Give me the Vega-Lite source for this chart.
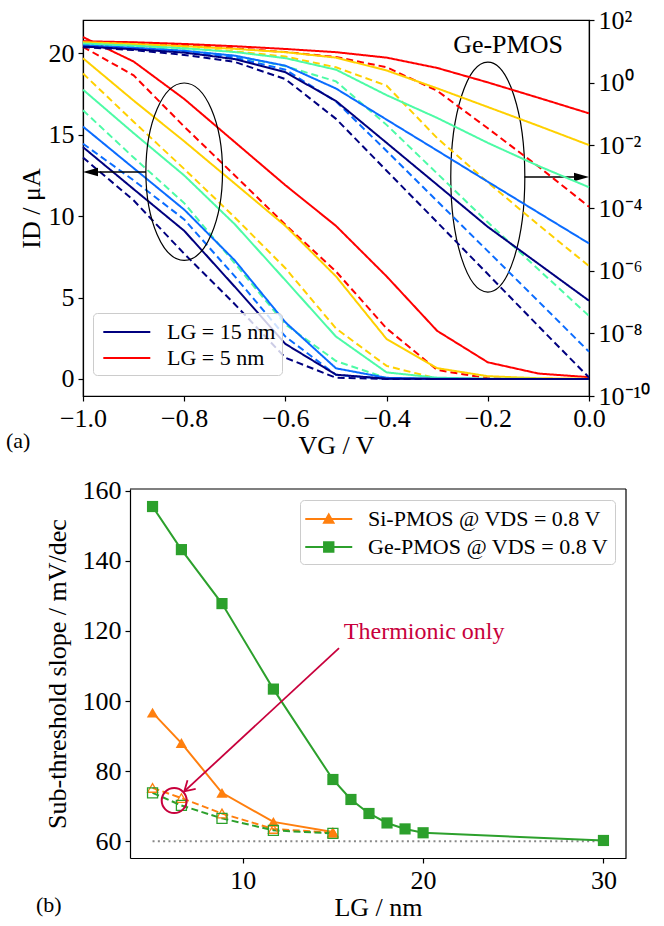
{
  "$schema": "https://vega.github.io/schema/vega-lite/v6.json",
  "padding": {"left": 5, "top": 6, "right": 5, "bottom": 0},
  "background": "white",
  "spacing": 18,
  "resolve": {"scale": {"color": "independent", "shape": "independent", "strokeDash": "independent"}, "legend": {"color": "independent", "shape": "independent"}},
  "config": {
    "font": "Liberation Serif",
    "view": {"stroke": null},
    "axis": {"labelFont": "Liberation Serif", "labelFontSize": 26, "titleFont": "Liberation Serif", "titleFontSize": 26, "titleFontWeight": "normal", "labelColor": "black", "titleColor": "black", "tickColor": "black", "domainColor": "black", "tickSize": 5, "grid": false, "labelPadding": 4, "labelFlush": false, "labelOverlap": false, "domainWidth": 1.2, "tickWidth": 1.2},
    "legend": {"labelFont": "Liberation Serif", "labelFontSize": 22, "labelColor": "black", "fillColor": "rgba(255,255,255,0.8)", "strokeColor": "#cccccc", "cornerRadius": 4, "labelLimit": 400},
    "title": {"font": "Liberation Serif", "fontSize": 22, "fontWeight": "normal", "color": "black"}
  },
  "datasets": {
    "iv": [
      {"VG": -1, "I": 21.0, "LG": "5", "kind": "full"}, {"VG": -0.9, "I": 19.5, "LG": "5", "kind": "full"}, {"VG": -0.8, "I": 17.2, "LG": "5", "kind": "full"}, {"VG": -0.7, "I": 14.55, "LG": "5", "kind": "full"}, {"VG": -0.6, "I": 11.9, "LG": "5", "kind": "full"}, {"VG": -0.5, "I": 9.4, "LG": "5", "kind": "full"}, {"VG": -0.4, "I": 6.3, "LG": "5", "kind": "full"}, {"VG": -0.3, "I": 2.95, "LG": "5", "kind": "full"}, {"VG": -0.2, "I": 1.02, "LG": "5", "kind": "full"}, {"VG": -0.1, "I": 0.33, "LG": "5", "kind": "full"}, {"VG": 0, "I": 0.105, "LG": "5", "kind": "full"},
      {"VG": -1, "I": 20.4, "LG": "5", "kind": "thermionic"}, {"VG": -0.9, "I": 18.65, "LG": "5", "kind": "thermionic"}, {"VG": -0.8, "I": 15.5, "LG": "5", "kind": "thermionic"}, {"VG": -0.7, "I": 12.5, "LG": "5", "kind": "thermionic"}, {"VG": -0.6, "I": 9.47, "LG": "5", "kind": "thermionic"}, {"VG": -0.5, "I": 6.6, "LG": "5", "kind": "thermionic"}, {"VG": -0.4, "I": 3.1, "LG": "5", "kind": "thermionic"}, {"VG": -0.3, "I": 0.55, "LG": "5", "kind": "thermionic"}, {"VG": -0.2, "I": 0.035, "LG": "5", "kind": "thermionic"}, {"VG": -0.1, "I": 0.0021, "LG": "5", "kind": "thermionic"}, {"VG": 0, "I": 0.00011, "LG": "5", "kind": "thermionic"},
      {"VG": -1, "I": 19.7, "LG": "6.6", "kind": "full"}, {"VG": -0.9, "I": 17.1, "LG": "6.6", "kind": "full"}, {"VG": -0.8, "I": 14.6, "LG": "6.6", "kind": "full"}, {"VG": -0.7, "I": 12.0, "LG": "6.6", "kind": "full"}, {"VG": -0.6, "I": 9.4, "LG": "6.6", "kind": "full"}, {"VG": -0.5, "I": 6.3, "LG": "6.6", "kind": "full"}, {"VG": -0.4, "I": 2.45, "LG": "6.6", "kind": "full"}, {"VG": -0.3, "I": 0.66, "LG": "6.6", "kind": "full"}, {"VG": -0.2, "I": 0.167, "LG": "6.6", "kind": "full"}, {"VG": -0.1, "I": 0.042, "LG": "6.6", "kind": "full"}, {"VG": 0, "I": 0.0102, "LG": "6.6", "kind": "full"},
      {"VG": -1, "I": 18.76, "LG": "6.6", "kind": "thermionic"}, {"VG": -0.9, "I": 15.8, "LG": "6.6", "kind": "thermionic"}, {"VG": -0.8, "I": 12.9, "LG": "6.6", "kind": "thermionic"}, {"VG": -0.7, "I": 9.92, "LG": "6.6", "kind": "thermionic"}, {"VG": -0.6, "I": 6.8, "LG": "6.6", "kind": "thermionic"}, {"VG": -0.5, "I": 3.1, "LG": "6.6", "kind": "thermionic"}, {"VG": -0.4, "I": 0.8, "LG": "6.6", "kind": "thermionic"}, {"VG": -0.3, "I": 0.017, "LG": "6.6", "kind": "thermionic"}, {"VG": -0.2, "I": 0.00066, "LG": "6.6", "kind": "thermionic"}, {"VG": -0.1, "I": 0.000029, "LG": "6.6", "kind": "thermionic"}, {"VG": 0, "I": 0.0000014, "LG": "6.6", "kind": "thermionic"},
      {"VG": -1, "I": 17.77, "LG": "8.8", "kind": "full"}, {"VG": -0.9, "I": 15.1, "LG": "8.8", "kind": "full"}, {"VG": -0.8, "I": 12.5, "LG": "8.8", "kind": "full"}, {"VG": -0.7, "I": 9.5, "LG": "8.8", "kind": "full"}, {"VG": -0.6, "I": 6.06, "LG": "8.8", "kind": "full"}, {"VG": -0.5, "I": 2.6, "LG": "8.8", "kind": "full"}, {"VG": -0.4, "I": 0.4, "LG": "8.8", "kind": "full"}, {"VG": -0.3, "I": 0.075, "LG": "8.8", "kind": "full"}, {"VG": -0.2, "I": 0.012, "LG": "8.8", "kind": "full"}, {"VG": -0.1, "I": 0.0022, "LG": "8.8", "kind": "full"}, {"VG": 0, "I": 0.00046, "LG": "8.8", "kind": "full"},
      {"VG": -1, "I": 16.5, "LG": "8.8", "kind": "thermionic"}, {"VG": -0.9, "I": 13.6, "LG": "8.8", "kind": "thermionic"}, {"VG": -0.8, "I": 10.8, "LG": "8.8", "kind": "thermionic"}, {"VG": -0.7, "I": 7.1, "LG": "8.8", "kind": "thermionic"}, {"VG": -0.6, "I": 3.35, "LG": "8.8", "kind": "thermionic"}, {"VG": -0.5, "I": 1.1, "LG": "8.8", "kind": "thermionic"}, {"VG": -0.4, "I": 0.045, "LG": "8.8", "kind": "thermionic"}, {"VG": -0.3, "I": 0.00126, "LG": "8.8", "kind": "thermionic"}, {"VG": -0.2, "I": 0.000035, "LG": "8.8", "kind": "thermionic"}, {"VG": -0.1, "I": 0.0000011, "LG": "8.8", "kind": "thermionic"}, {"VG": 0, "I": 3.6e-8, "LG": "8.8", "kind": "thermionic"},
      {"VG": -1, "I": 15.5, "LG": "11.7", "kind": "full"}, {"VG": -0.9, "I": 12.95, "LG": "11.7", "kind": "full"}, {"VG": -0.8, "I": 10.4, "LG": "11.7", "kind": "full"}, {"VG": -0.7, "I": 7.28, "LG": "11.7", "kind": "full"}, {"VG": -0.6, "I": 3.48, "LG": "11.7", "kind": "full"}, {"VG": -0.5, "I": 0.65, "LG": "11.7", "kind": "full"}, {"VG": -0.4, "I": 0.066, "LG": "11.7", "kind": "full"}, {"VG": -0.3, "I": 0.0068, "LG": "11.7", "kind": "full"}, {"VG": -0.2, "I": 0.00069, "LG": "11.7", "kind": "full"}, {"VG": -0.1, "I": 0.000071, "LG": "11.7", "kind": "full"}, {"VG": 0, "I": 0.0000074, "LG": "11.7", "kind": "full"},
      {"VG": -1, "I": 14.45, "LG": "11.7", "kind": "thermionic"}, {"VG": -0.9, "I": 12.2, "LG": "11.7", "kind": "thermionic"}, {"VG": -0.8, "I": 9.8, "LG": "11.7", "kind": "thermionic"}, {"VG": -0.7, "I": 6.3, "LG": "11.7", "kind": "thermionic"}, {"VG": -0.6, "I": 2.6, "LG": "11.7", "kind": "thermionic"}, {"VG": -0.5, "I": 0.25, "LG": "11.7", "kind": "thermionic"}, {"VG": -0.4, "I": 0.0066, "LG": "11.7", "kind": "thermionic"}, {"VG": -0.3, "I": 0.000166, "LG": "11.7", "kind": "thermionic"}, {"VG": -0.2, "I": 0.0000042, "LG": "11.7", "kind": "thermionic"}, {"VG": -0.1, "I": 1.05e-7, "LG": "11.7", "kind": "thermionic"}, {"VG": 0, "I": 2.6e-9, "LG": "11.7", "kind": "thermionic"},
      {"VG": -1, "I": 14.24, "LG": "15", "kind": "full"}, {"VG": -0.9, "I": 11.66, "LG": "15", "kind": "full"}, {"VG": -0.8, "I": 9.1, "LG": "15", "kind": "full"}, {"VG": -0.7, "I": 5.66, "LG": "15", "kind": "full"}, {"VG": -0.6, "I": 2.15, "LG": "15", "kind": "full"}, {"VG": -0.5, "I": 0.26, "LG": "15", "kind": "full"}, {"VG": -0.4, "I": 0.012, "LG": "15", "kind": "full"}, {"VG": -0.3, "I": 0.00055, "LG": "15", "kind": "full"}, {"VG": -0.2, "I": 0.000025, "LG": "15", "kind": "full"}, {"VG": -0.1, "I": 0.00000166, "LG": "15", "kind": "full"}, {"VG": 0, "I": 1.1e-7, "LG": "15", "kind": "full"},
      {"VG": -1, "I": 13.6, "LG": "15", "kind": "thermionic"}, {"VG": -0.9, "I": 10.97, "LG": "15", "kind": "thermionic"}, {"VG": -0.8, "I": 7.69, "LG": "15", "kind": "thermionic"}, {"VG": -0.7, "I": 4.59, "LG": "15", "kind": "thermionic"}, {"VG": -0.6, "I": 1.3, "LG": "15", "kind": "thermionic"}, {"VG": -0.5, "I": 0.07, "LG": "15", "kind": "thermionic"}, {"VG": -0.4, "I": 0.00155, "LG": "15", "kind": "thermionic"}, {"VG": -0.3, "I": 0.000035, "LG": "15", "kind": "thermionic"}, {"VG": -0.2, "I": 7.8e-7, "LG": "15", "kind": "thermionic"}, {"VG": -0.1, "I": 1.7e-8, "LG": "15", "kind": "thermionic"}, {"VG": 0, "I": 3.9e-10, "LG": "15", "kind": "thermionic"}
    ],
    "ellL": [{"VG": -0.8, "I": 12.73}],
    "ellR": [{"VG": -0.2, "I": 12.4}],
    "arrows": [{"VG": -0.8755, "VG2": -0.985, "I": 12.71}, {"VG": -0.1277, "VG2": -0.015, "I": 12.4}],
    "heads": [{"VG": -1.0, "I": 12.71, "dir": "left"}, {"VG": 0, "I": 12.4, "dir": "right"}],
    "geLabel": [{"VG": -0.16, "I": 20.5, "txt": "Ge-PMOS"}],
    "ss": [
      {"L": 5, "S": 96.7, "series": "Si-PMOS @ VDS = 0.8 V", "kind": "full"}, {"L": 6.6, "S": 88.0, "series": "Si-PMOS @ VDS = 0.8 V", "kind": "full"}, {"L": 8.85, "S": 73.8, "series": "Si-PMOS @ VDS = 0.8 V", "kind": "full"}, {"L": 11.7, "S": 65.5, "series": "Si-PMOS @ VDS = 0.8 V", "kind": "full"}, {"L": 15, "S": 62.6, "series": "Si-PMOS @ VDS = 0.8 V", "kind": "full"},
      {"L": 5, "S": 155.5, "series": "Ge-PMOS @ VDS = 0.8 V", "kind": "full"}, {"L": 6.6, "S": 143.2, "series": "Ge-PMOS @ VDS = 0.8 V", "kind": "full"}, {"L": 8.85, "S": 127.8, "series": "Ge-PMOS @ VDS = 0.8 V", "kind": "full"}, {"L": 11.7, "S": 103.4, "series": "Ge-PMOS @ VDS = 0.8 V", "kind": "full"}, {"L": 15, "S": 77.6, "series": "Ge-PMOS @ VDS = 0.8 V", "kind": "full"}, {"L": 16, "S": 71.9, "series": "Ge-PMOS @ VDS = 0.8 V", "kind": "full"}, {"L": 17, "S": 67.9, "series": "Ge-PMOS @ VDS = 0.8 V", "kind": "full"}, {"L": 18, "S": 65.2, "series": "Ge-PMOS @ VDS = 0.8 V", "kind": "full"}, {"L": 19, "S": 63.5, "series": "Ge-PMOS @ VDS = 0.8 V", "kind": "full"}, {"L": 20, "S": 62.4, "series": "Ge-PMOS @ VDS = 0.8 V", "kind": "full"}, {"L": 30, "S": 60.2, "series": "Ge-PMOS @ VDS = 0.8 V", "kind": "full"},
      {"L": 5, "S": 75.2, "series": "Si-PMOS @ VDS = 0.8 V", "kind": "thermionic"}, {"L": 6.6, "S": 72.3, "series": "Si-PMOS @ VDS = 0.8 V", "kind": "thermionic"}, {"L": 8.85, "S": 67.9, "series": "Si-PMOS @ VDS = 0.8 V", "kind": "thermionic"}, {"L": 11.7, "S": 63.5, "series": "Si-PMOS @ VDS = 0.8 V", "kind": "thermionic"}, {"L": 15, "S": 62.4, "series": "Si-PMOS @ VDS = 0.8 V", "kind": "thermionic"},
      {"L": 5, "S": 73.8, "series": "Ge-PMOS @ VDS = 0.8 V", "kind": "thermionic"}, {"L": 6.6, "S": 70.2, "series": "Ge-PMOS @ VDS = 0.8 V", "kind": "thermionic"}, {"L": 8.85, "S": 66.5, "series": "Ge-PMOS @ VDS = 0.8 V", "kind": "thermionic"}, {"L": 11.7, "S": 63.1, "series": "Ge-PMOS @ VDS = 0.8 V", "kind": "thermionic"}, {"L": 15, "S": 62.2, "series": "Ge-PMOS @ VDS = 0.8 V", "kind": "thermionic"}
    ],
    "refline": [{"L": 5, "L2": 30, "S": 60}],
    "frameTop": [{"L": 3.75, "L2": 31.25, "S": 160.5}],
    "frameRight": [{"L": 31.25, "S": 55.2, "S2": 160.5}],
    "circle": [{"L": 6.2, "S": 71.6}],
    "tArrow": [{"L": 15.34, "S": 115.1, "L2": 6.76, "S2": 74.2}],
    "tHead": [{"L": 6.76, "S": 74.2}],
    "tText": [{"L": 20.06, "S": 119.6, "txt": "Thermionic only"}]
  },
  "vconcat": [
    {
      "width": 506,
      "height": 376,
      "view": {"stroke": "black", "strokeWidth": 1.2},
      "title": {"text": "(a)", "orient": "bottom", "anchor": "start", "frame": "group", "dx": -77, "offset": -27},
      "encoding": {
        "x": {"field": "VG", "type": "quantitative", "scale": {"domain": [-1, 0], "nice": false, "zero": false}, "axis": {"title": "VG / V", "values": [-1, -0.8, -0.6, -0.4, -0.2, 0], "format": ".1f", "titlePadding": 1}}
      },
      "layer": [
        {
          "encoding": {
            "y": {"field": "I", "type": "quantitative", "scale": {"domain": [-1.05, 22.05], "nice": false, "zero": false}, "axis": {"orient": "left", "title": "ID / μA", "values": [0, 5, 10, 15, 20]}}
          },
          "layer": [
            {
              "data": {"name": "iv"},
              "mark": {"type": "line", "strokeWidth": 2},
              "encoding": {
                "color": {"field": "LG", "type": "nominal", "scale": {"domain": ["15", "11.7", "8.8", "6.6", "5"], "range": ["#00007f", "#0a6cff", "#4dfba6", "#ffd000", "#ff0000"]}, "legend": {"values": ["15", "5"], "title": null, "orient": "none", "legendX": 10, "legendY": 293, "symbolType": "M-0.74,0L3.26,0", "symbolSize": 552, "symbolStrokeWidth": 2, "labelOffset": 42, "labelExpr": "'LG = ' + datum.label + ' nm'", "rowPadding": 2, "padding": 6}},
                "strokeDash": {"field": "kind", "type": "nominal", "scale": {"domain": ["full", "thermionic"], "range": [[1, 0], [7, 4]]}, "legend": null}
              }
            },
            {
              "data": {"name": "ellL"},
              "mark": {"type": "point", "shape": "M0,-1A0.432,1,0,1,1,0,1A0.432,1,0,1,1,0,-1Z", "size": 31470, "filled": false, "stroke": "black", "strokeWidth": 1.2, "opacity": 1}
            },
            {
              "data": {"name": "ellR"},
              "mark": {"type": "point", "shape": "M0,-1A0.322,1,0,1,1,0,1A0.322,1,0,1,1,0,-1Z", "size": 52900, "filled": false, "stroke": "black", "strokeWidth": 1.2, "opacity": 1}
            },
            {
              "data": {"name": "arrows"},
              "mark": {"type": "rule", "color": "black", "strokeWidth": 1.6},
              "encoding": {"x2": {"field": "VG2"}}
            },
            {
              "data": {"name": "heads"},
              "mark": {"type": "point", "filled": true, "color": "black", "size": 900, "opacity": 1},
              "encoding": {"shape": {"field": "dir", "type": "nominal", "scale": {"domain": ["left", "right"], "range": ["M0,0L1,-0.28L1,0.28Z", "M0,0L-1,-0.28L-1,0.28Z"]}, "legend": null}}
            },
            {
              "data": {"name": "geLabel"},
              "mark": {"type": "text", "fontSize": 26, "align": "center", "baseline": "middle", "color": "black"},
              "encoding": {"text": {"field": "txt"}}
            }
          ]
        },
        {
          "data": {"name": "iv"},
          "mark": {"type": "line", "strokeWidth": 2},
          "encoding": {
            "y": {"field": "I", "type": "quantitative", "scale": {"type": "log", "domain": [1e-10, 100], "nice": false}, "axis": {"orient": "right", "title": null, "values": [1e-10, 1e-8, 1e-6, 1e-4, 1e-2, 1, 100], "labelExpr": "'10' + replace(replace(replace(replace(replace(replace(replace('' + round(log(datum.value) / LN10), '-', '⁻'), '0', '⁰'), '1', '¹'), '2', '²'), '4', '⁴'), '6', '⁶'), '8', '⁸')"}},
            "color": {"field": "LG", "type": "nominal", "scale": {"domain": ["15", "11.7", "8.8", "6.6", "5"], "range": ["#00007f", "#0a6cff", "#4dfba6", "#ffd000", "#ff0000"]}, "legend": {"values": ["15", "5"], "title": null, "orient": "none", "legendX": 10, "legendY": 293, "symbolType": "M-0.74,0L3.26,0", "symbolSize": 552, "symbolStrokeWidth": 2, "labelOffset": 42, "labelExpr": "'LG = ' + datum.label + ' nm'", "rowPadding": 2, "padding": 6}},
            "strokeDash": {"field": "kind", "type": "nominal", "scale": {"domain": ["full", "thermionic"], "range": [[1, 0], [7, 4]]}, "legend": null}
          }
        }
      ],
      "resolve": {"scale": {"y": "independent"}}
    },
    {
      "width": 543,
      "height": 369,
      "title": {"text": "(b)", "orient": "bottom", "anchor": "start", "frame": "group", "dx": -47, "offset": -25},
      "encoding": {
        "x": {"field": "L", "type": "quantitative", "scale": {"domain": [3.75, 31.25], "nice": false, "zero": false, "range": [47, 543]}, "axis": {"title": "LG / nm", "values": [10, 20, 30], "titlePadding": 1}},
        "y": {"field": "S", "type": "quantitative", "scale": {"domain": [55.2, 160.5], "nice": false, "zero": false}, "axis": {"title": "Sub-threshold slope / mV/dec", "values": [60, 80, 100, 120, 140, 160], "offset": -47, "titlePadding": 12}},
        "color": {"field": "series", "type": "nominal", "scale": {"domain": ["Si-PMOS @ VDS = 0.8 V", "Ge-PMOS @ VDS = 0.8 V"], "range": ["#ff7f0e", "#2ca02c"]}, "legend": null}
      },
      "layer": [
        {
          "data": {"name": "refline"},
          "mark": {"type": "rule", "color": "#888888", "strokeWidth": 2, "strokeDash": [2, 3.3]},
          "encoding": {"x2": {"field": "L2"}, "color": {"value": "#888888"}}
        },
        {
          "data": {"name": "frameTop"},
          "mark": {"type": "rule", "strokeWidth": 1.2},
          "encoding": {"x2": {"field": "L2"}, "color": {"value": "black"}}
        },
        {
          "data": {"name": "frameRight"},
          "mark": {"type": "rule", "strokeWidth": 1.2},
          "encoding": {"y2": {"field": "S2"}, "color": {"value": "black"}}
        },
        {
          "data": {"name": "ss"},
          "transform": [{"filter": "datum.kind === 'full'"}],
          "mark": {"type": "line", "strokeWidth": 2},
          "encoding": {
            "color": {"field": "series", "type": "nominal", "scale": {"domain": ["Si-PMOS @ VDS = 0.8 V", "Ge-PMOS @ VDS = 0.8 V"], "range": ["#ff7f0e", "#2ca02c"]}, "legend": {"title": null, "orient": "top-right", "offset": 11, "symbolSize": 552, "symbolStrokeWidth": 2, "labelOffset": 36, "padding": 6, "rowPadding": 4, "labelLimit": 400, "encode": {"symbols": {"update": {"shape": {"signal": "datum.value === 'Si-PMOS @ VDS = 0.8 V' ? 'M-1.17,0L2.83,0M0.43,0.32L0.83,-0.38L1.23,0.32Z' : 'M-1.17,0L2.83,0M0.43,-0.4H1.23V0.4H0.43Z'"}, "fill": {"signal": "datum.value === 'Si-PMOS @ VDS = 0.8 V' ? '#ff7f0e' : '#2ca02c'"}, "stroke": {"signal": "datum.value === 'Si-PMOS @ VDS = 0.8 V' ? '#ff7f0e' : '#2ca02c'"}, "strokeWidth": {"value": 2}, "opacity": {"value": 1}}}}}}
          }
        },
        {
          "data": {"name": "ss"},
          "transform": [{"filter": "datum.kind === 'thermionic'"}],
          "mark": {"type": "line", "strokeWidth": 2, "strokeDash": [7, 3.5]}
        },
        {
          "data": {"name": "ss"},
          "transform": [{"filter": "datum.kind === 'full' && datum.series === 'Si-PMOS @ VDS = 0.8 V'"}],
          "mark": {"type": "point", "shape": "triangle-up", "filled": true, "size": 130, "opacity": 1}
        },
        {
          "data": {"name": "ss"},
          "transform": [{"filter": "datum.kind === 'full' && datum.series === 'Ge-PMOS @ VDS = 0.8 V'"}],
          "mark": {"type": "point", "shape": "square", "filled": true, "size": 125, "opacity": 1}
        },
        {
          "data": {"name": "ss"},
          "transform": [{"filter": "datum.kind === 'thermionic' && datum.series === 'Si-PMOS @ VDS = 0.8 V'"}],
          "mark": {"type": "point", "shape": "triangle-up", "filled": false, "size": 100, "strokeWidth": 1.3, "opacity": 1}
        },
        {
          "data": {"name": "ss"},
          "transform": [{"filter": "datum.kind === 'thermionic' && datum.series === 'Ge-PMOS @ VDS = 0.8 V'"}],
          "mark": {"type": "point", "shape": "square", "filled": false, "size": 100, "strokeWidth": 1.3, "opacity": 1}
        },
        {
          "data": {"name": "circle"},
          "mark": {"type": "point", "filled": false, "size": 625, "strokeWidth": 2, "opacity": 1},
          "encoding": {"color": {"value": "#c8003c"}}
        },
        {
          "data": {"name": "tArrow"},
          "mark": {"type": "rule", "strokeWidth": 1.8},
          "encoding": {"x2": {"field": "L2"}, "y2": {"field": "S2"}, "color": {"value": "#c8003c"}}
        },
        {
          "data": {"name": "tHead"},
          "mark": {"type": "point", "filled": false, "shape": "M-1,-0.6L0,0L-1,0.6", "size": 400, "angle": 137, "strokeWidth": 1.8, "opacity": 1},
          "encoding": {"color": {"value": "#c8003c"}}
        },
        {
          "data": {"name": "tText"},
          "mark": {"type": "text", "fontSize": 24, "align": "center", "baseline": "middle"},
          "encoding": {"text": {"field": "txt"}, "color": {"value": "#c8003c"}}
        }
      ]
    }
  ]
}
